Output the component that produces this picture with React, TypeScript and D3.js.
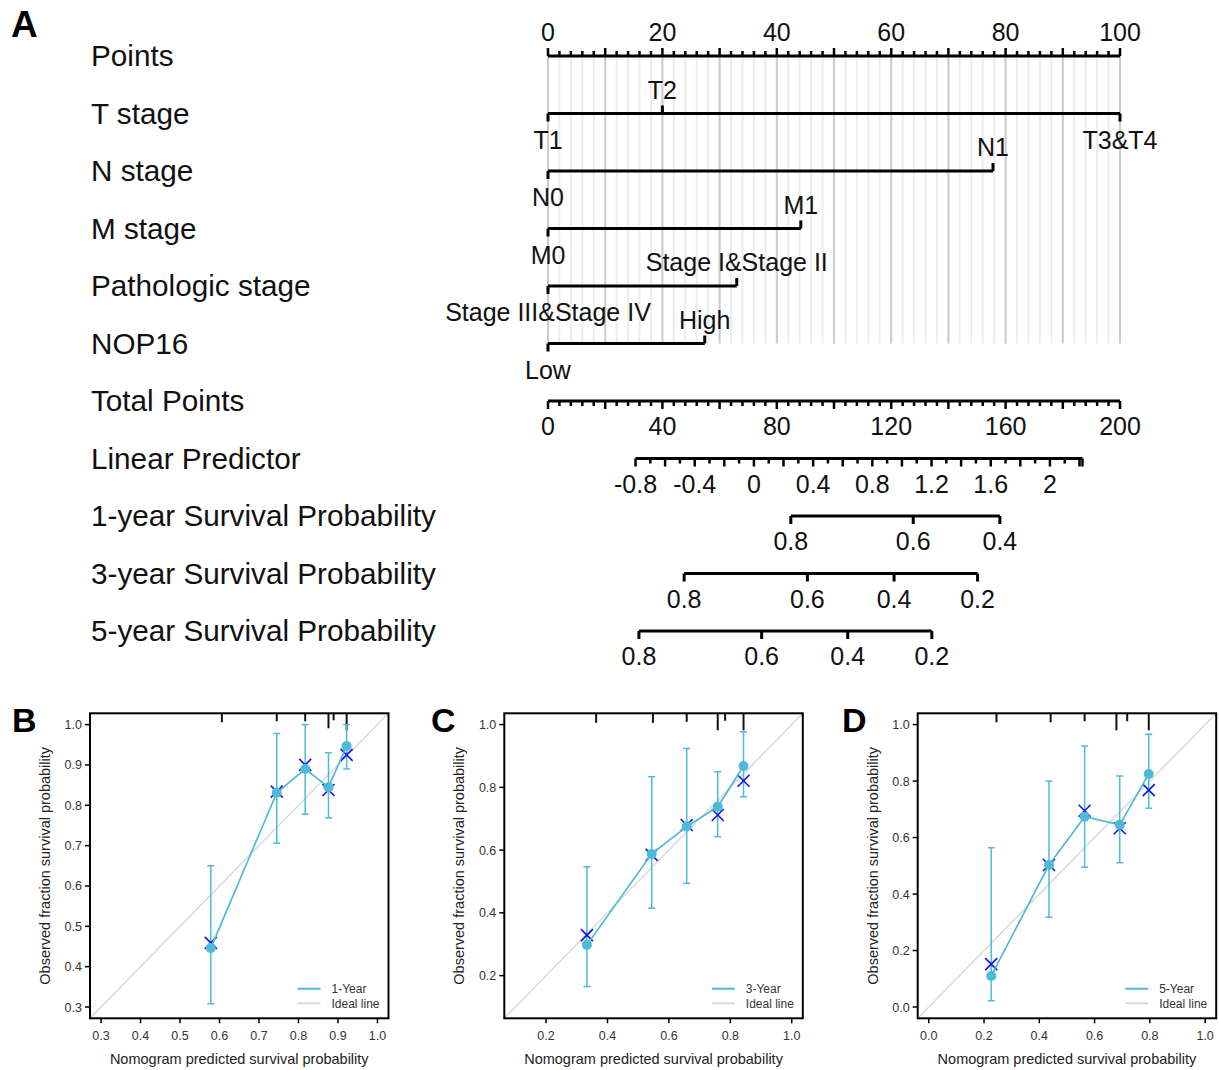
import React from "react";
import * as d3 from "d3";

const FONT = "'Liberation Sans', Arial, Helvetica, sans-serif";

// ---------- Panel A: nomogram ----------
const rowLabels = [
  "Points",
  "T stage",
  "N stage",
  "M stage",
  "Pathologic stage",
  "NOP16",
  "Total Points",
  "Linear Predictor",
  "1-year Survival Probability",
  "3-year Survival Probability",
  "5-year Survival Probability",
];

const pointTickLabels = [0, 20, 40, 60, 80, 100];
const totalTickLabels = [0, 40, 80, 120, 160, 200];
const lpTickLabels = [-0.8, -0.4, 0, 0.4, 0.8, 1.2, 1.6, 2];
const lpRange = [-0.8, 2.22];
// total points where lp = -0.8, and total points per 1 unit of lp
const lpTotalAtMin = 30.6;
const lpTotalPerUnit = 51.75;

const tLevels = ["T1", "T2", "T3&T4"];
const tPoints = [0, 20, 100];
const nLevels = ["N0", "N1"];
const nPoints = [0, 77.8];
const mLevels = ["M0", "M1"];
const mPoints = [0, 44.2];
const stageLevels = ["Stage III&Stage IV", "Stage I&Stage II"];
const stagePoints = [0, 33];
const nopLevels = ["Low", "High"];
const nopPoints = [0, 27.4];

const surv1Probs = [0.8, 0.6, 0.4];
const surv1Total = [84.9, 127.7, 158.0];
const surv3Probs = [0.8, 0.6, 0.4, 0.2];
const surv3Total = [47.6, 90.7, 121.0, 150.2];
const surv5Probs = [0.8, 0.6, 0.4, 0.2];
const surv5Total = [31.8, 74.7, 104.8, 134.2];

// ---------- Panels B-D: calibration ----------
const predB = [0.578, 0.745, 0.817, 0.876, 0.922];
const obsB = [0.446, 0.831, 0.89, 0.845, 0.947];
const corrB = [0.459, 0.834, 0.9, 0.838, 0.925];
const lowB = [0.308, 0.706, 0.778, 0.769, 0.89];
const highB = [0.65, 0.978, 1.0, 0.93, 1.0];
const rugB = [0.606, 0.745, 0.817, 0.876, 0.889, 0.922];
const rugFreqB = [0.53, 0.47, 0.47, 0.88, 0.41, 1.0];

const predC = [0.333, 0.544, 0.658, 0.759, 0.843];
const obsC = [0.298, 0.588, 0.675, 0.738, 0.868];
const corrC = [0.329, 0.585, 0.68, 0.712, 0.821];
const lowC = [0.165, 0.415, 0.494, 0.643, 0.77];
const highC = [0.547, 0.834, 0.924, 0.85, 0.977];
const rugC = [0.363, 0.548, 0.658, 0.759, 0.783, 0.843];
const rugFreqC = [0.56, 0.56, 0.5, 1.0, 0.44, 1.0];

const predD = [0.226, 0.435, 0.564, 0.691, 0.796];
const obsD = [0.11, 0.503, 0.674, 0.645, 0.825];
const corrD = [0.152, 0.503, 0.695, 0.633, 0.768];
const lowD = [0.022, 0.318, 0.495, 0.511, 0.704];
const highD = [0.564, 0.8, 0.924, 0.818, 0.966];
const rugD = [0.245, 0.441, 0.564, 0.679, 0.718, 0.796];
const rugFreqD = [0.53, 0.53, 0.47, 1.0, 0.47, 1.0];

const ticksB = [0.3, 0.4, 0.5, 0.6, 0.7, 0.8, 0.9, 1.0];
const ticksC = [0.2, 0.4, 0.6, 0.8, 1.0];
const ticksD = [0.0, 0.2, 0.4, 0.6, 0.8, 1.0];

const CAL_COLOR = "#4DBBD5";
const X_COLOR = "#1414F0";

const W = 1219;
const H = 1070;

// nomogram geometry
const AX0 = 548;
const AX1 = 1120;
const rowY = (i: number) => 56 + i * 57.5;
const LW = 3;

function Nomogram() {
  const xPts = d3.scaleLinear().domain([0, 100]).range([AX0, AX1]);
  const xTot = d3.scaleLinear().domain([0, 200]).range([AX0, AX1]);
  const lpToX = (lp: number) => xTot(lpTotalAtMin + (lp - lpRange[0]) * lpTotalPerUnit);

  const gridMinor = d3.range(0, 101, 2);
  const gridMajor = d3.range(0, 101, 10);
  const gridTop = rowY(0);
  const gridBottom = rowY(5);

  const tickFont = 25;
  const varRows = [
    { levels: tLevels, pts: tPoints },
    { levels: nLevels, pts: nPoints },
    { levels: mLevels, pts: mPoints },
    { levels: stageLevels, pts: stagePoints },
    { levels: nopLevels, pts: nopPoints },
  ];
  const survRows = [
    { probs: surv1Probs, tot: surv1Total },
    { probs: surv3Probs, tot: surv3Total },
    { probs: surv5Probs, tot: surv5Total },
  ];

  return (
    <g fontFamily={FONT}>
      <text x={11} y={37} fontSize={37} fontWeight="bold" fill="#000">A</text>
      {/* grid */}
      {gridMinor.map((v) => (
        <line key={"gm" + v} x1={xPts(v)} x2={xPts(v)} y1={gridTop} y2={gridBottom} stroke="#EDEDED" strokeWidth={2} />
      ))}
      {gridMajor.map((v) => (
        <line key={"gM" + v} x1={xPts(v)} x2={xPts(v)} y1={gridTop} y2={gridBottom} stroke="#CCCCCC" strokeWidth={2} />
      ))}

      {/* row labels */}
      {rowLabels.map((t, i) => (
        <text key={t} x={91} y={rowY(i) + 10} fontSize={29.7} fill="#111">{t}</text>
      ))}

      {/* Points axis */}
      <g>
        <line x1={AX0} x2={AX1} y1={rowY(0)} y2={rowY(0)} stroke="#000" strokeWidth={LW} />
        {d3.range(0, 101, 2).map((v) => (
          <line key={v} x1={xPts(v)} x2={xPts(v)} y1={rowY(0)} y2={rowY(0) - (v % 10 === 0 ? 8 : 5)} stroke="#000" strokeWidth={2.5} />
        ))}
        {pointTickLabels.map((v) => (
          <text key={v} x={xPts(v)} y={rowY(0) - 15} textAnchor="middle" fontSize={tickFont} fill="#111">{v}</text>
        ))}
      </g>

      {/* variables */}
      {varRows.map((r, ri) => {
        const y = rowY(ri + 1);
        const maxP = d3.max(r.pts) as number;
        return (
          <g key={ri}>
            <line x1={xPts(0)} x2={xPts(maxP)} y1={y} y2={y} stroke="#000" strokeWidth={LW} />
            {r.levels.map((lv, k) => {
              const above = k % 2 === 1;
              const x = xPts(r.pts[k]);
              return (
                <g key={lv}>
                  <line x1={x} x2={x} y1={y} y2={above ? y - 8 : y + 8} stroke="#000" strokeWidth={LW} />
                  <text x={x} y={above ? y - 15 : y + 35} textAnchor="middle" fontSize={tickFont} fill="#111">{lv}</text>
                </g>
              );
            })}
          </g>
        );
      })}

      {/* Total points */}
      <g>
        <line x1={AX0} x2={AX1} y1={rowY(6)} y2={rowY(6)} stroke="#000" strokeWidth={LW} />
        {d3.range(0, 201, 4).map((v) => (
          <line key={v} x1={xTot(v)} x2={xTot(v)} y1={rowY(6)} y2={rowY(6) + (v % 20 === 0 ? 8 : 5)} stroke="#000" strokeWidth={2.5} />
        ))}
        {totalTickLabels.map((v) => (
          <text key={v} x={xTot(v)} y={rowY(6) + 34} textAnchor="middle" fontSize={tickFont} fill="#111">{v}</text>
        ))}
      </g>

      {/* Linear predictor */}
      <g>
        <line x1={lpToX(lpRange[0])} x2={lpToX(lpRange[1])} y1={rowY(7)} y2={rowY(7)} stroke="#000" strokeWidth={LW} />
        {d3.range(0, 31).map((k) => {
          const v = lpRange[0] + k * 0.1;
          if (v > lpRange[1] + 1e-9) return null;
          const major = k % 2 === 0;
          return (
            <line key={k} x1={lpToX(v)} x2={lpToX(v)} y1={rowY(7)} y2={rowY(7) + (major ? 8 : 5)} stroke="#000" strokeWidth={2.5} />
          );
        })}
        <line x1={lpToX(lpRange[1])} x2={lpToX(lpRange[1])} y1={rowY(7)} y2={rowY(7) + 8} stroke="#000" strokeWidth={2.5} />
        {lpTickLabels.map((v) => (
          <text key={v} x={lpToX(v)} y={rowY(7) + 34} textAnchor="middle" fontSize={tickFont} fill="#111">{v}</text>
        ))}
      </g>

      {/* survival axes */}
      {survRows.map((r, ri) => {
        const y = rowY(8 + ri);
        const xs = r.tot.map((t) => xTot(t));
        return (
          <g key={ri}>
            <line x1={d3.min(xs)} x2={d3.max(xs)} y1={y} y2={y} stroke="#000" strokeWidth={LW} />
            {r.probs.map((p, k) => (
              <g key={p}>
                <line x1={xs[k]} x2={xs[k]} y1={y} y2={y + 8} stroke="#000" strokeWidth={LW} />
                <text x={xs[k]} y={y + 34} textAnchor="middle" fontSize={tickFont} fill="#111">{p.toFixed(1)}</text>
              </g>
            ))}
          </g>
        );
      })}
    </g>
  );
}

type CalProps = {
  letter: string;
  letterX: number;
  left: number;
  domain: [number, number];
  ticks: number[];
  pred: number[];
  obs: number[];
  corr: number[];
  low: number[];
  high: number[];
  rug: number[];
  rugFreq: number[];
  legend: string;
};

const CAL_TOP = 713.3;
const CAL_BOTTOM = 1018.3;
const CAL_W = 298.5;

function Calibration(p: CalProps) {
  const x = d3.scaleLinear().domain(p.domain).range([p.left, p.left + CAL_W]);
  const y = d3.scaleLinear().domain(p.domain).range([CAL_BOTTOM, CAL_TOP]);
  const line = d3
    .line<number>()
    .x((_, i) => x(p.pred[i]))
    .y((d) => y(d));
  const clipId = "clip" + p.letter;
  const right = p.left + CAL_W;
  const fmt = d3.format(".1f");
  const cap = 3.5;
  const xs = 6;
  return (
    <g fontFamily={FONT}>
      <defs>
        <clipPath id={clipId}>
          <rect x={p.left} y={CAL_TOP} width={CAL_W} height={CAL_BOTTOM - CAL_TOP} />
        </clipPath>
      </defs>
      <text x={p.letterX} y={732} fontSize={34} fontWeight="bold" fill="#000">{p.letter}</text>
      <g clipPath={`url(#${clipId})`}>
        <line x1={x(p.domain[0])} y1={y(p.domain[0])} x2={x(p.domain[1])} y2={y(p.domain[1])} stroke="#DADADA" strokeWidth={1.5} />
      </g>
      {/* rug of predictions */}
      {p.rug.map((v, i) => (
        <line key={"r" + i} x1={x(v)} x2={x(v)} y1={CAL_TOP} y2={CAL_TOP + 17 * p.rugFreq[i]} stroke="#111" strokeWidth={2} />
      ))}
      {/* error bars */}
      {p.pred.map((v, i) => (
        <g key={"e" + i} stroke={CAL_COLOR} strokeWidth={1.5}>
          <line x1={x(v)} x2={x(v)} y1={y(p.low[i])} y2={y(p.high[i])} />
          <line x1={x(v) - cap} x2={x(v) + cap} y1={y(p.low[i])} y2={y(p.low[i])} />
          <line x1={x(v) - cap} x2={x(v) + cap} y1={y(p.high[i])} y2={y(p.high[i])} />
        </g>
      ))}
      {/* bias-corrected crosses */}
      {p.pred.map((v, i) => (
        <g key={"x" + i} stroke={X_COLOR} strokeWidth={1.6}>
          <line x1={x(v) - xs} x2={x(v) + xs} y1={y(p.corr[i]) - xs} y2={y(p.corr[i]) + xs} />
          <line x1={x(v) - xs} x2={x(v) + xs} y1={y(p.corr[i]) + xs} y2={y(p.corr[i]) - xs} />
        </g>
      ))}
      <path d={line(p.obs) || ""} fill="none" stroke={CAL_COLOR} strokeWidth={1.7} />
      {p.pred.map((v, i) => (
        <circle key={"c" + i} cx={x(v)} cy={y(p.obs[i])} r={5} fill={CAL_COLOR} />
      ))}
      {/* box */}
      <rect x={p.left} y={CAL_TOP} width={CAL_W} height={CAL_BOTTOM - CAL_TOP} fill="none" stroke="#000" strokeWidth={2} />
      {/* x axis */}
      {p.ticks.map((t) => (
        <g key={"xt" + t}>
          <line x1={x(t)} x2={x(t)} y1={CAL_BOTTOM} y2={CAL_BOTTOM + 5} stroke="#000" strokeWidth={1.5} />
          <text x={x(t)} y={CAL_BOTTOM + 22} textAnchor="middle" fontSize={12.5} fill="#333">{fmt(t)}</text>
        </g>
      ))}
      {p.ticks.map((t) => (
        <g key={"yt" + t}>
          <line x1={p.left} x2={p.left - 5} y1={y(t)} y2={y(t)} stroke="#000" strokeWidth={1.5} />
          <text x={p.left - 8} y={y(t) + 4.5} textAnchor="end" fontSize={12.5} fill="#333">{fmt(t)}</text>
        </g>
      ))}
      <text x={p.left + CAL_W / 2} y={1064} textAnchor="middle" fontSize={14.5} fill="#222">
        Nomogram predicted survival probability
      </text>
      <text
        transform={`translate(${p.left - 40},${(CAL_TOP + CAL_BOTTOM) / 2}) rotate(-90)`}
        textAnchor="middle"
        fontSize={14.5}
        fill="#222"
      >
        Observed fraction survival probability
      </text>
      {/* legend */}
      <line x1={right - 91} x2={right - 68} y1={CAL_BOTTOM - 29.6} y2={CAL_BOTTOM - 29.6} stroke={CAL_COLOR} strokeWidth={2} />
      <text x={right - 57} y={CAL_BOTTOM - 25.3} fontSize={12} fill="#333">{p.legend}</text>
      <line x1={right - 91} x2={right - 68} y1={CAL_BOTTOM - 15} y2={CAL_BOTTOM - 15} stroke="#DADADA" strokeWidth={2} />
      <text x={right - 57} y={CAL_BOTTOM - 10.7} fontSize={12} fill="#333">Ideal line</text>
    </g>
  );
}

export default function App() {
  return (
    <svg
      width={W}
      height={H}
      viewBox={`0 0 ${W} ${H}`}
      style={{ position: "absolute", left: 0, top: 0, background: "#fff" }}
    >
      <rect x={0} y={0} width={W} height={H} fill="#fff" />
      <Nomogram />
      <Calibration letter="B" letterX={12} left={90} domain={[0.272, 1.028]} ticks={ticksB}
        pred={predB} obs={obsB} corr={corrB} low={lowB} high={highB} rug={rugB} rugFreq={rugFreqB} legend="1-Year" />
      <Calibration letter="C" letterX={431} left={504.3} domain={[0.064, 1.036]} ticks={ticksC}
        pred={predC} obs={obsC} corr={corrC} low={lowC} high={highC} rug={rugC} rugFreq={rugFreqC} legend="3-Year" />
      <Calibration letter="D" letterX={842} left={917.7} domain={[-0.04, 1.04]} ticks={ticksD}
        pred={predD} obs={obsD} corr={corrD} low={lowD} high={highD} rug={rugD} rugFreq={rugFreqD} legend="5-Year" />
    </svg>
  );
}
